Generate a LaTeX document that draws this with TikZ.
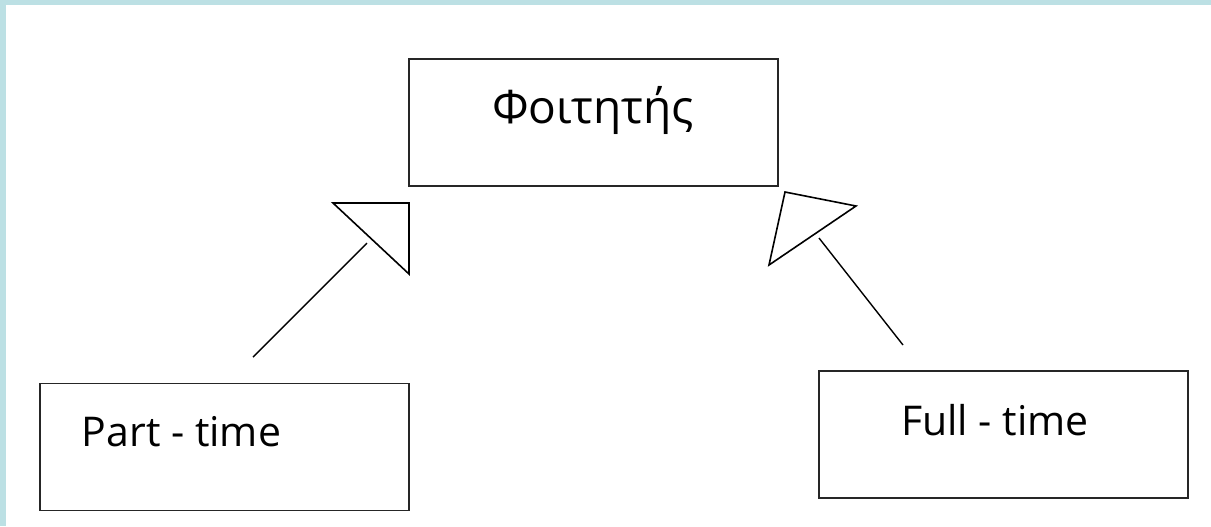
\documentclass[tikz,border=0pt]{standalone}
\usepackage{fontspec}
\setmainfont{Open Sans}
\definecolor{framecol}{HTML}{BCE0E4}
\tikzset{
  classbox/.style={draw=black!85, line width=0.9pt, minimum width=184.5pt, minimum height=63.5pt, inner sep=0pt},
  classname/.style={font=\fontsize{20.5}{24}\selectfont, inner sep=0pt},
  genline/.style={line width=0.7pt},
  gentip/.style={line width=0.8pt, line join=miter}
}
\begin{document}
\begin{tikzpicture}[x=0.5pt, y=-0.5pt]
\useasboundingbox (0,0) rectangle (1211,526);
\fill [white] (0,0) rectangle (1211,526);
\fill [framecol] (0,0) rectangle (1211,5);
\fill [framecol] (0,0) rectangle (6,526);
% classes
\node [classbox] (student) at (593.5,122.5) {};
\node [classbox] (parttime) at (224.5,447) {};
\node [classbox] (fulltime) at (1003.5,434.5) {};
\node [classname, font=\fontsize{23}{27}\selectfont] (studentname) at (593,110) {Φοιτητής};
\node [classname] (partname) at (181.5,432) {Part - time};
\node [classname] (fullname) at (995,420) {Full - time};
% generalisation tips
\draw [gentip] (333,203) coordinate (ltipa) -- (409,203) -- (409,274) coordinate (ltipb) -- cycle;
\draw [gentip] (785,192) coordinate (rtipa) -- (856,206) -- (769,265) coordinate (rtipb) -- cycle;
\coordinate (lfoot) at (253,357);
\coordinate (lhead) at (367,243);
\coordinate (rfoot) at (903,345);
\coordinate (rhead) at (819,238);
\draw [genline] (lfoot) -- (lhead);
\draw [genline] (rfoot) -- (rhead);
\end{tikzpicture}
\end{document}
